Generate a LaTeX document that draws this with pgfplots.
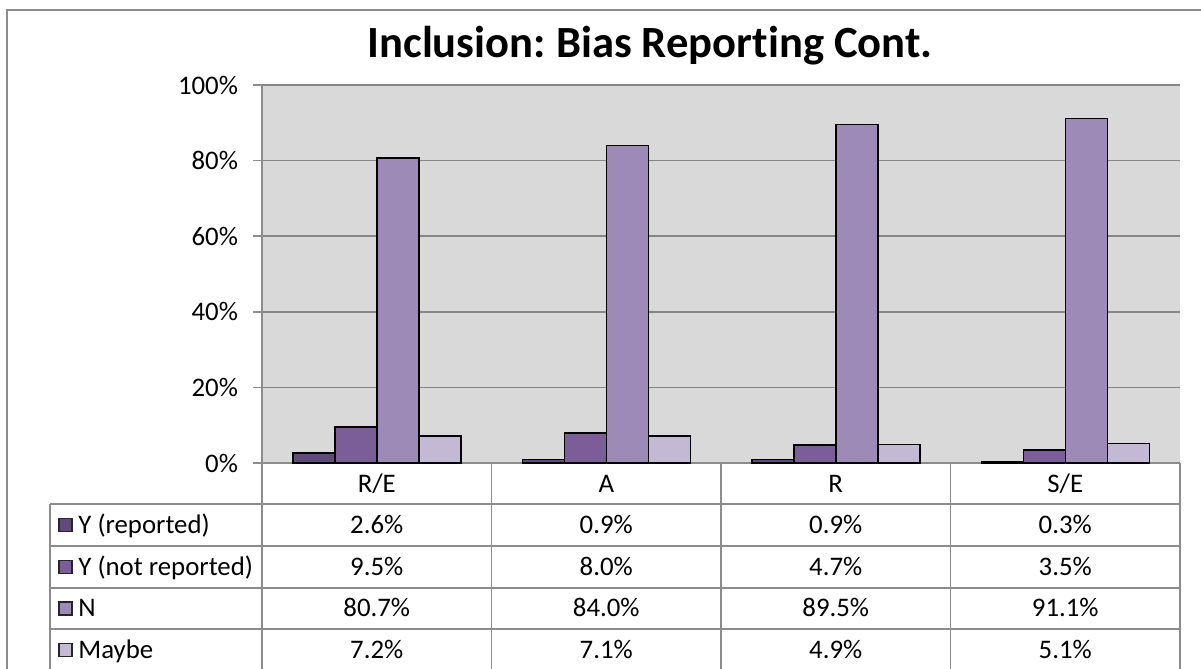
\documentclass[border=0pt]{standalone}
\usepackage{pgfplots}
\pgfplotsset{compat=1.18}
\usepackage{fontspec}
\setmainfont{Carlito}[Ligatures=NoCommon]
\frenchspacing
\definecolor{yrep}{HTML}{604A7B}
\definecolor{ynot}{HTML}{7B5E98}
\definecolor{nn}{HTML}{9E8AB6}
\definecolor{maybe}{HTML}{C4B9D4}
\definecolor{plotbg}{HTML}{D9D9D9}
\definecolor{gridc}{HTML}{868686}
\definecolor{linec}{HTML}{8C8C8C}
\newcommand{\tf}{\fontsize{13.4}{16}\selectfont}
\begin{document}
\begin{tikzpicture}
\useasboundingbox (0pt,0pt) rectangle (600.5pt,-334.5pt);
\begin{scope}[x=0.5pt,y=-0.5pt]
\fill[white] (0,0) rectangle (1201,669);
\draw[linec, line width=0.9pt] (7,10) rectangle (1240,720);
\node[anchor=base, font=\bfseries\fontsize{22.3}{26}\selectfont] at (650,57) {Inclusion:\ Bias Reporting Cont.};
\end{scope}
\begin{axis}[
  at={(131pt,-231.5pt)}, anchor=south west,
  scale only axis, width=459pt, height=189pt,
  ybar=0pt, bar width=21pt,
  xmin=-0.5, xmax=3.5, ymin=0, ymax=100,
  axis background/.style={fill=plotbg},
  xtick=\empty, ytick={0,20,...,100},
  ymajorgrids, grid style={gridc, line width=0.75pt},
  axis x line*=bottom, axis y line*=left,
  axis line style={linec, line width=0.75pt, -},
  tick align=outside, major tick length=4.5pt,
  tick style={linec, line width=0.75pt},
  /pgf/number format/assume math mode=true,
  yticklabel={\pgfmathprintnumber{\tick}\%},
  yticklabel style={font=\tf, xshift=-4pt},
]
\addplot[fill=yrep, draw=black, line width=0.75pt] coordinates {(0,2.6)(1,0.9)(2,0.9)(3,0.3)};
\addplot[fill=ynot, draw=black, line width=0.75pt] coordinates {(0,9.5)(1,8.0)(2,4.7)(3,3.5)};
\addplot[fill=nn, draw=black, line width=0.75pt] coordinates {(0,80.7)(1,84.0)(2,89.5)(3,91.1)};
\addplot[fill=maybe, draw=black, line width=0.75pt] coordinates {(0,7.2)(1,7.1)(2,4.9)(3,5.1)};
\end{axis}
\begin{scope}[x=0.5pt,y=-0.5pt]
\begin{scope}[linec, line width=0.75pt]
\foreach \x in {262,491.5,721,950.5,1180} \draw (\x,463) -- (\x,669);
\foreach \y in {504,546,588,629} \draw (50,\y) -- (1180,\y);
\draw (50,504) -- (50,669);
\end{scope}
\foreach \c [count=\i from 0] in {R/E,A,R,S/E}
  \node[anchor=base, font=\tf] at (376.75+229.5*\i,492) {\c};
\foreach \lab/\col/\yc in {Y (reported)/yrep/525, Y (not reported)/ynot/567, N/nn/608.5, Maybe/maybe/650}{
  \filldraw[fill=\col, draw=black!85, line width=0.6pt] (59,\yc-6.5) rectangle (72,\yc+6.5);
  \node[anchor=base west, font=\tf, inner sep=0pt] at (78,\yc+8) {\lab};
}
\foreach \v [count=\i from 0] in {2.6,0.9,0.9,0.3}
  \node[anchor=base, font=\tf] at (376.75+229.5*\i,533) {\v\%};
\foreach \v [count=\i from 0] in {9.5,8.0,4.7,3.5}
  \node[anchor=base, font=\tf] at (376.75+229.5*\i,575) {\v\%};
\foreach \v [count=\i from 0] in {80.7,84.0,89.5,91.1}
  \node[anchor=base, font=\tf] at (376.75+229.5*\i,616.5) {\v\%};
\foreach \v [count=\i from 0] in {7.2,7.1,4.9,5.1}
  \node[anchor=base, font=\tf] at (376.75+229.5*\i,658) {\v\%};
\end{scope}
\end{tikzpicture}
\end{document}
